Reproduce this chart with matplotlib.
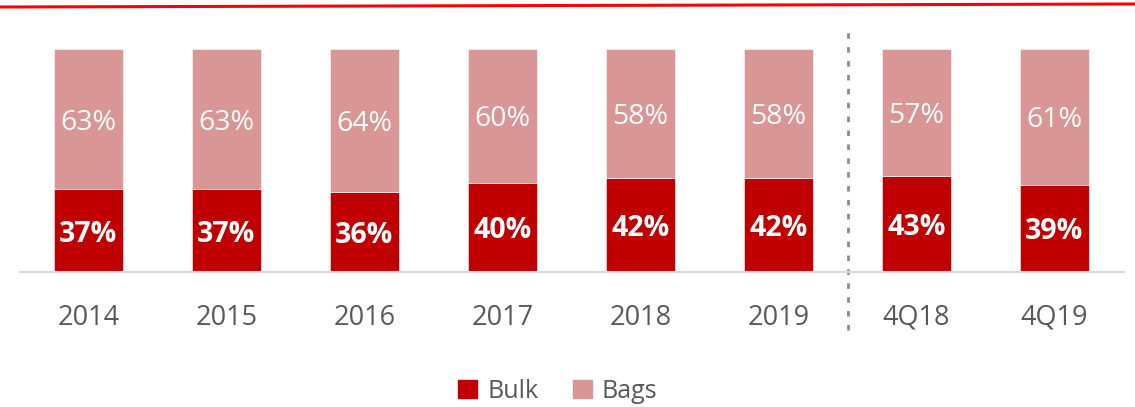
import numpy as np
import matplotlib
matplotlib.use("Agg")
import matplotlib.pyplot as plt
from matplotlib.lines import Line2D
from matplotlib.patches import Patch

periods = ["2014", "2015", "2016", "2017", "2018", "2019", "4Q18", "4Q19"]
bulk = [37, 37, 36, 40, 42, 42, 43, 39]
bags = [63, 63, 64, 60, 58, 58, 57, 61]

plt.rcParams['font.family'] = ['Open Sans', 'DejaVu Sans']

bulk_col = '#C00000'
bags_col = '#D99694'
grey = '#595959'

fig = plt.figure(figsize=(11.35, 4.07), dpi=100)
ax = fig.add_axes([19.5 / 1135, 1 - 272 / 407, 1104 / 1135, 223 / 407])

x = np.arange(len(periods))
w = 0.5
ax.bar(x, bulk, w, color=bulk_col, label='Bulk', edgecolor='white', linewidth=0.4)
ax.bar(x, bags, w, bottom=bulk, color=bags_col, label='Bags', edgecolor='white', linewidth=0.4)

for i in range(len(periods)):
    ax.text(x[i], bulk[i] / 2 - 1.5, f"{bulk[i]}%", ha='center', va='center',
            color='white', fontsize=20.5, fontweight='bold')
    ax.text(x[i], bulk[i] + bags[i] / 2 - 1.5, f"{bags[i]}%", ha='center', va='center',
            color='white', fontsize=20.5)

ax.set_xlim(-0.5, len(periods) - 0.5)
ax.set_ylim(0, 100)
ax.set_xticks(x)
ax.set_xticklabels(periods, fontsize=19.5, color=grey)
ax.tick_params(axis='x', length=0, pad=23)
ax.set_yticks([])
for s in ['top', 'right', 'left']:
    ax.spines[s].set_visible(False)
ax.spines['bottom'].set_color('#D9D9D9')
ax.spines['bottom'].set_linewidth(1.5)

# separator between years and quarters
ax.axvline(5.5, ymin=-0.26, ymax=1.076, color='#8C8C8C', linestyle=(0, (2, 3)),
           linewidth=2, clip_on=False)

# red line at top of slide
fig.add_artist(Line2D([0, 1], [1 - 7 / 407, 1 - 4 / 407], color='#FF0000',
                      linewidth=2.2, transform=fig.transFigure))

handles = [Patch(color=bulk_col, label='Bulk'), Patch(color=bags_col, label='Bags')]
fig.legend(handles=handles, loc='center', bbox_to_anchor=(558 / 1135, 1 - 391 / 407),
           ncol=2, frameon=False, fontsize=18, labelcolor=grey,
           handlelength=0.75, handleheight=0.75, handletextpad=0.4, columnspacing=1.4)

fig.savefig('out.png', dpi=100)
